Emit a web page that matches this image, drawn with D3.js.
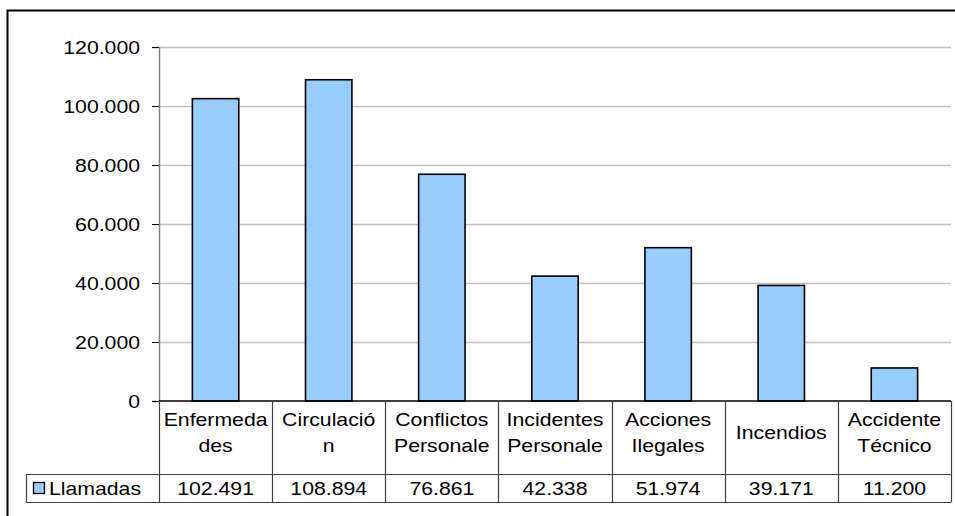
<!DOCTYPE html>
<html>
<head>
<meta charset="utf-8">
<script src="https://cdn.jsdelivr.net/npm/d3@7"></script>
<style>
  html, body { margin: 0; padding: 0; background: #fff; }
  svg { display: block; }
  text { font-family: Arial, "Liberation Sans", sans-serif; fill: #000; }
</style>
</head>
<body>
<svg id="chart" width="955" height="516"></svg>
<script>
const categories = ["Enfermedades", "Circulación", "Conflictos Personale", "Incidentes Personale", "Acciones Ilegales", "Incendios", "Accidente Técnico"];
const categoryLines = [["Enfermeda", "des"], ["Circulació", "n"], ["Conflictos", "Personale"], ["Incidentes", "Personale"], ["Acciones", "Ilegales"], ["Incendios"], ["Accidente", "Técnico"]];
const seriesName = "Llamadas";
const values = [102491, 108894, 76861, 42338, 51974, 39171, 11200];
const yTicks = [0, 20000, 40000, 60000, 80000, 100000, 120000];

(function () {
const fmt = v => v === 0 ? "0" : d3.format(",")(v).replace(/,/g, ".");

const svg = d3.select("#chart");
const SX = 1.18;   // horizontal stretch of text
const FS = 18;

function stext(g, x, y, str, anchor) {
  return g.append("text")
    .attr("transform", `translate(${x},${y}) scale(${SX},1)`)
    .attr("text-anchor", anchor || "middle")
    .attr("font-size", FS)
    .text(str);
}

// outer chart border (extends beyond the picture on right/bottom)
svg.append("rect").attr("x", 7.5).attr("y", 10.5).attr("width", 960).attr("height", 520)
  .attr("fill", "none").attr("stroke", "#000").attr("stroke-width", 2);

const pLeft = 159, pRight = 951, pTop = 47, pBottom = 401;
const y = d3.scaleLinear().domain([0, 120000]).range([pBottom, pTop]);
const xCell = d3.scaleBand().domain(categories).range([pLeft, pRight]).padding(0);
const xBar = d3.scaleBand().domain(categories).range([pLeft, pRight]).paddingInner(0.59).paddingOuter(0.295);

// gridlines
svg.append("g").selectAll("line").data(yTicks.filter(t => t > 0)).join("line")
  .attr("x1", pLeft).attr("x2", pRight)
  .attr("y1", d => Math.round(y(d)) + 0.5).attr("y2", d => Math.round(y(d)) + 0.5)
  .attr("stroke", "#c0c0c0").attr("stroke-width", 1.5);

// bars
svg.append("g").selectAll("rect").data(values).join("rect")
  .attr("x", (d, i) => xBar(categories[i]))
  .attr("width", xBar.bandwidth())
  .attr("y", d => y(d))
  .attr("height", d => y(0) - y(d))
  .attr("fill", "#99ccff").attr("stroke", "#000").attr("stroke-width", 1.6);

// y axis
const yAxis = d3.axisLeft(y).tickValues(yTicks).tickSize(7).tickPadding(12).tickFormat(fmt);
const ya = svg.append("g").attr("transform", `translate(${pLeft},0)`).call(yAxis);
ya.select(".domain").attr("stroke", "#808080").attr("stroke-width", 1.5);
ya.selectAll(".tick line").attr("stroke", "#000");
ya.selectAll(".tick text").remove();
yTicks.forEach(t => stext(svg, 140, y(t) + 6.5, fmt(t), "end"));

// data table
const rowTop = 401, rowMid = 474, rowBot = 502, tableLeft = 26;
const tg = svg.append("g");
const tableStroke = "#404040";
tg.append("line").attr("x1", pLeft).attr("x2", pRight).attr("y1", rowTop).attr("y2", rowTop).attr("stroke", "#000").attr("stroke-width", 1.5);
tg.append("line").attr("x1", tableLeft).attr("x2", pRight).attr("y1", rowMid + 0.5).attr("y2", rowMid + 0.5).attr("stroke", tableStroke).attr("stroke-width", 1.2);
tg.append("line").attr("x1", tableLeft).attr("x2", pRight).attr("y1", rowBot + 0.5).attr("y2", rowBot + 0.5).attr("stroke", tableStroke).attr("stroke-width", 1.2);
const vx = categories.map(c => xCell(c)).concat([pRight]);
tg.selectAll("line.v").data(vx).join("line").attr("class", "v")
  .attr("x1", d => Math.round(d) + 0.5).attr("x2", d => Math.round(d) + 0.5)
  .attr("y1", rowTop).attr("y2", rowBot + 0.5)
  .attr("stroke", tableStroke).attr("stroke-width", 1.2);
tg.append("line").attr("x1", tableLeft + 0.5).attr("x2", tableLeft + 0.5).attr("y1", rowMid).attr("y2", rowBot + 0.5)
  .attr("stroke", tableStroke).attr("stroke-width", 1.2);

// category labels
categoryLines.forEach((lines, i) => {
  const cx = xCell(categories[i]) + xCell.bandwidth() / 2;
  if (lines.length === 1) {
    stext(tg, cx, 439, lines[0]);
  } else {
    stext(tg, cx, 426, lines[0]);
    stext(tg, cx, 452, lines[1]);
  }
});

// value row
values.forEach((v, i) => {
  const cx = xCell(categories[i]) + xCell.bandwidth() / 2;
  stext(tg, cx, 494.5, fmt(v));
});

// legend key + series name
tg.append("rect").attr("x", 33.5).attr("y", 482.5).attr("width", 11).attr("height", 11)
  .attr("fill", "#99ccff").attr("stroke", "#000").attr("stroke-width", 1.3);
stext(tg, 49, 494.5, seriesName, "start");
})();
</script>
</body>
</html>
